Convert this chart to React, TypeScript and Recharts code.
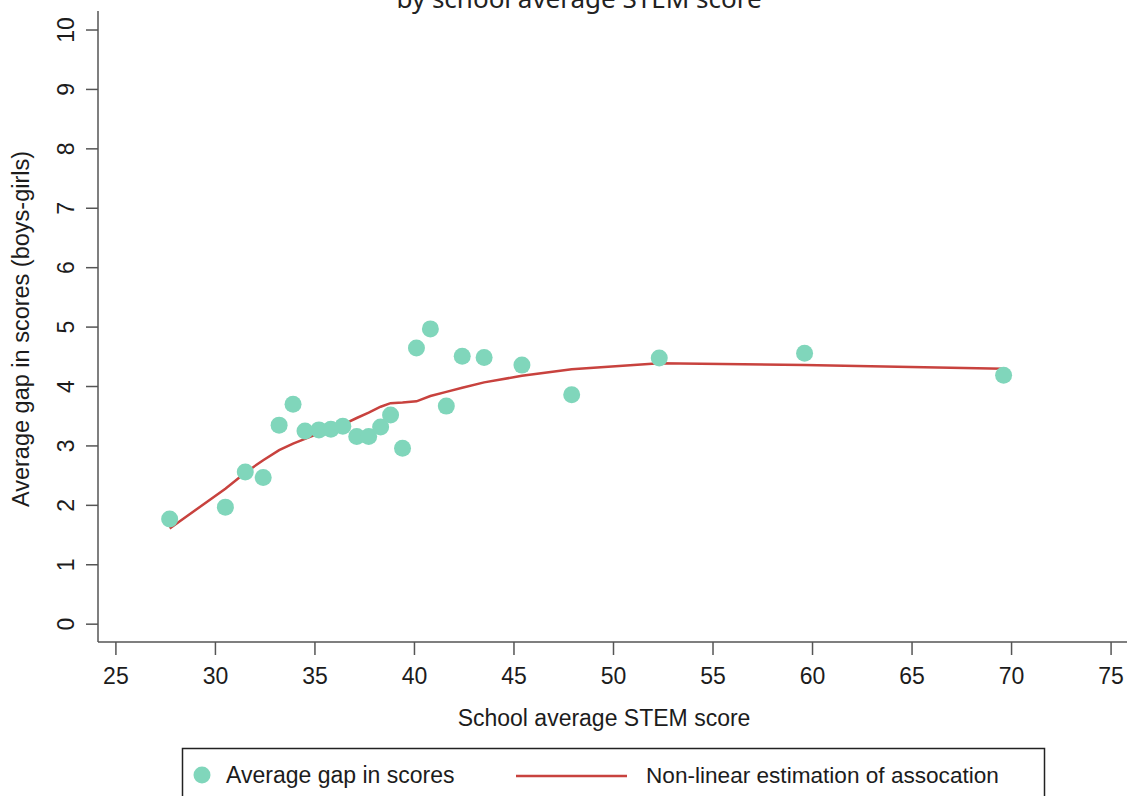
import {
  ComposedChart,
  Line,
  Scatter,
  XAxis,
  YAxis,
} from "recharts";

// School average STEM score for each school group
const stemScore = [
  27.7, 30.5, 31.5, 32.4, 33.2, 33.9, 34.5, 35.2, 35.8, 36.4, 37.1, 37.7, 38.3,
  38.8, 39.4, 40.1, 40.8, 41.6, 42.4, 43.5, 45.4, 47.9, 52.3, 59.6, 69.6,
];
// Average gap in scores (boys - girls)
const scoreGap = [
  1.77, 1.97, 2.56, 2.47, 3.35, 3.7, 3.25, 3.27, 3.28, 3.33, 3.16, 3.16, 3.32,
  3.52, 2.96, 4.65, 4.97, 3.67, 4.51, 4.49, 4.36, 3.86, 4.48, 4.56, 4.19,
];
// Non-linear fit evaluated at the same scores
const fittedGap = [
  1.61, 2.28, 2.55, 2.76, 2.93, 3.04, 3.12, 3.21, 3.28, 3.36, 3.47, 3.56, 3.66,
  3.72, 3.73, 3.75, 3.84, 3.91, 3.98, 4.07, 4.18, 4.29, 4.39, 4.36, 4.3,
];

const xTicks = [25, 30, 35, 40, 45, 50, 55, 60, 65, 70, 75];
const yTicks = [0, 1, 2, 3, 4, 5, 6, 7, 8, 9, 10];

const POINT_NAME = "Average gap in scores";
const LINE_NAME = "Non-linear estimation of assocation";

const POINT_COLOR = "#80d6bb";
const LINE_COLOR = "#c8423e";
const AXIS_COLOR = "#555555";
const TEXT_COLOR = "#1c1c1c";
const FONT = "'Liberation Sans', Arial, sans-serif";

const points = stemScore.map((x, i) => ({ x, y: scoreGap[i] }));
const fit = stemScore.map((x, i) => ({ x, y: fittedGap[i] }));

function XTick({ x, payload }: any) {
  return (
    <text x={x} y={684} textAnchor="middle" fontFamily={FONT} fontSize={23} fill={TEXT_COLOR}>
      {payload.value}
    </text>
  );
}

function YTick({ y, payload }: any) {
  return (
    <text
      x={74}
      y={y}
      transform={`rotate(-90 74 ${y})`}
      textAnchor="middle"
      fontFamily={FONT}
      fontSize={23}
      fill={TEXT_COLOR}
    >
      {payload.value}
    </text>
  );
}

function Dot({ cx, cy }: any) {
  return <circle cx={cx} cy={cy} r={8.5} fill={POINT_COLOR} />;
}

export default function App() {
  return (
    <div
      style={{
        position: "absolute",
        left: 0,
        top: 0,
        width: 1127,
        height: 796,
        overflow: "hidden",
        background: "#fff",
      }}
    >
      <ComposedChart
        width={1127}
        height={796}
        margin={{ top: 11, right: 0, bottom: 0, left: 0 }}
      >
        <XAxis
          type="number"
          dataKey="x"
          domain={[24.1, 75.8]}
          ticks={xTicks}
          interval={0}
          height={154}
          tickSize={13}
          stroke={AXIS_COLOR}
          strokeWidth={1.5}
          tick={<XTick />}
        />
        <YAxis
          type="number"
          dataKey="y"
          domain={[-0.3, 10.32]}
          ticks={yTicks}
          interval={0}
          width={98}
          tickSize={12}
          stroke={AXIS_COLOR}
          strokeWidth={1.5}
          tick={<YTick />}
        />
        <Scatter
          name={POINT_NAME}
          data={points}
          dataKey="y"
          shape={<Dot />}
          isAnimationActive={false}
        />
        <Line
          name={LINE_NAME}
          data={fit}
          dataKey="y"
          type="linear"
          stroke={LINE_COLOR}
          strokeWidth={2.5}
          dot={false}
          activeDot={false}
          isAnimationActive={false}
        />
      </ComposedChart>

      <svg
        width={1127}
        height={796}
        style={{ position: "absolute", left: 0, top: 0, pointerEvents: "none" }}
      >
        <text x={579} y={8} textAnchor="middle" fontFamily="'Noto Sans', sans-serif" fontSize={26} fill="#222">
          by school average STEM score
        </text>
        <text x={604} y={726} textAnchor="middle" fontFamily={FONT} fontSize={23} fill={TEXT_COLOR}>
          School average STEM score
        </text>
        <text
          x={29}
          y={329}
          transform="rotate(-90 29 329)"
          textAnchor="middle"
          fontFamily={FONT}
          fontSize={23.5}
          fill={TEXT_COLOR}
        >
          Average gap in scores (boys-girls)
        </text>

        {/* legend */}
        <rect x={182.5} y={748.5} width={862} height={70} fill="none" stroke="#222" strokeWidth={1.5} />
        <circle cx={202} cy={775} r={8.5} fill={POINT_COLOR} />
        <text x={226} y={783} fontFamily={FONT} fontSize={23} fill={TEXT_COLOR}>
          {POINT_NAME}
        </text>
        <line x1={516} x2={627} y1={776} y2={776} stroke={LINE_COLOR} strokeWidth={2.5} />
        <text x={646} y={783} fontFamily={FONT} fontSize={22.6} fill={TEXT_COLOR}>
          {LINE_NAME}
        </text>
      </svg>
    </div>
  );
}
